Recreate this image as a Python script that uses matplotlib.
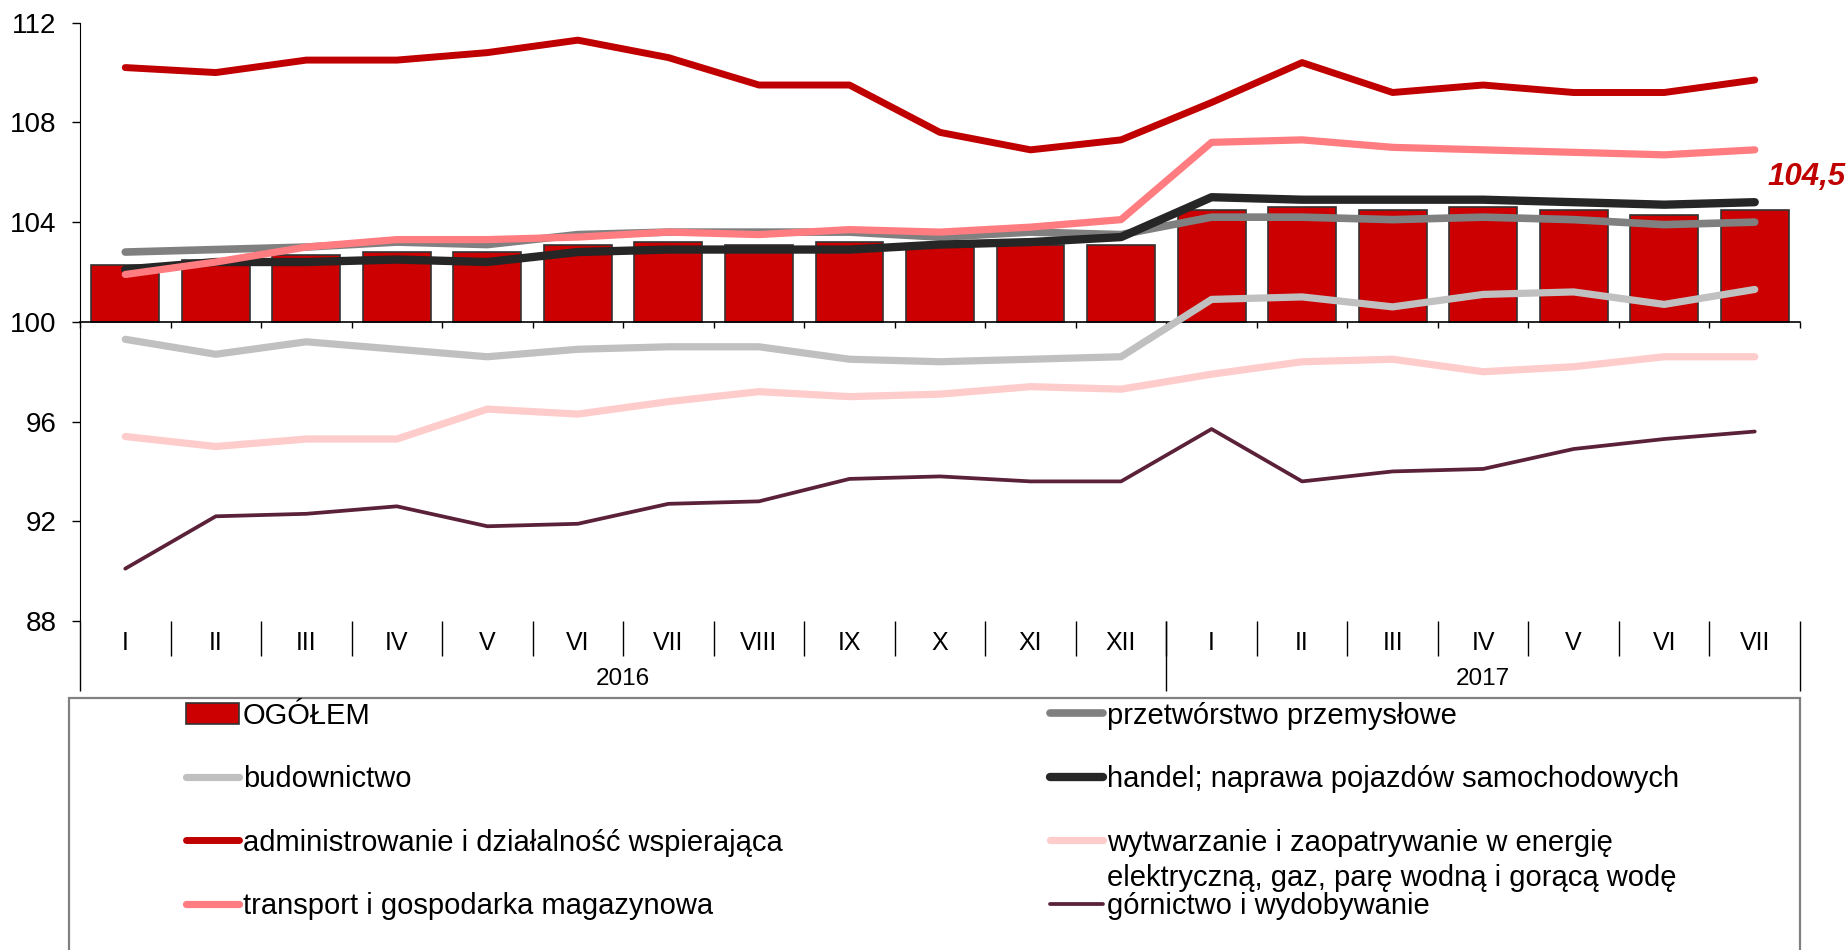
import numpy as np
import matplotlib
matplotlib.use('Agg')
import matplotlib.pyplot as plt
from matplotlib.patches import Rectangle
from matplotlib.text import Annotation

plt.rcParams['font.family'] = ['Liberation Sans', 'DejaVu Sans']

months = ['I', 'II', 'III', 'IV', 'V', 'VI', 'VII', 'VIII', 'IX', 'X', 'XI', 'XII',
          'I', 'II', 'III', 'IV', 'V', 'VI', 'VII']
years = ['2016', '2017']

ogolem = [102.3, 102.5, 102.7, 102.8, 102.8, 103.1, 103.2, 103.1, 103.2, 103.0, 103.1, 103.1,
          104.5, 104.6, 104.5, 104.6, 104.5, 104.3, 104.5]
przetworstwo = [102.8, 102.9, 103.0, 103.2, 103.1, 103.5, 103.6, 103.6, 103.6, 103.4, 103.6, 103.5,
                104.2, 104.2, 104.1, 104.2, 104.1, 103.9, 104.0]
budownictwo = [99.3, 98.7, 99.2, 98.9, 98.6, 98.9, 99.0, 99.0, 98.5, 98.4, 98.5, 98.6,
               100.9, 101.0, 100.6, 101.1, 101.2, 100.7, 101.3]
handel = [102.1, 102.4, 102.4, 102.5, 102.4, 102.8, 102.9, 102.9, 102.9, 103.1, 103.2, 103.4,
          105.0, 104.9, 104.9, 104.9, 104.8, 104.7, 104.8]
administrowanie = [110.2, 110.0, 110.5, 110.5, 110.8, 111.3, 110.6, 109.5, 109.5, 107.6, 106.9, 107.3,
                   108.8, 110.4, 109.2, 109.5, 109.2, 109.2, 109.7]
wytwarzanie = [95.4, 95.0, 95.3, 95.3, 96.5, 96.3, 96.8, 97.2, 97.0, 97.1, 97.4, 97.3,
               97.9, 98.4, 98.5, 98.0, 98.2, 98.6, 98.6]
transport = [101.9, 102.4, 103.0, 103.3, 103.3, 103.4, 103.6, 103.5, 103.7, 103.6, 103.8, 104.1,
             107.2, 107.3, 107.0, 106.9, 106.8, 106.7, 106.9]
gornictwo = [90.1, 92.2, 92.3, 92.6, 91.8, 91.9, 92.7, 92.8, 93.7, 93.8, 93.6, 93.6,
             95.7, 93.6, 94.0, 94.1, 94.9, 95.3, 95.6]

W, H = 1847, 950
FS_TICK = 20
FS_CAT = 18
FS_YEAR = 17.5
FS_LEG = 21

fig = plt.figure(figsize=(W / 100, H / 100), dpi=100)
ax = fig.add_axes([80 / W, 1 - 621 / H, 1720 / W, (621 - 22.7) / H])

x = np.arange(len(months))
bars = ax.bar(x, np.array(ogolem) - 100, bottom=100, width=0.75, color='#CC0000',
              edgecolor='#333333', linewidth=1.2, zorder=2)

kw = dict(solid_capstyle='round', solid_joinstyle='round')
l_prz, = ax.plot(x, przetworstwo, color='#808080', lw=5.5, zorder=3, **kw)
l_han, = ax.plot(x, handel, color='#262626', lw=6, zorder=4, **kw)
l_tra, = ax.plot(x, transport, color='#FF7C80', lw=5.2, zorder=5, **kw)
l_bud, = ax.plot(x, budownictwo, color='#C0C0C0', lw=5.2, zorder=5, **kw)
l_wyt, = ax.plot(x, wytwarzanie, color='#FFCCCC', lw=5.2, zorder=5, **kw)
l_gor, = ax.plot(x, gornictwo, color='#5A2139', lw=2.7, zorder=5, **kw)
l_adm, = ax.plot(x, administrowanie, color='#C00000', lw=5, zorder=6, **kw)

ax.annotate(f'{ogolem[-1]:.1f}'.replace('.', ','), xy=(x[-1], ogolem[-1]),
            xytext=(9, 23.5), textcoords='offset points', ha='left', va='center',
            color='#C00000', fontsize=22.5, fontweight='bold', fontstyle='italic')

ax.set_xlim(-0.5, len(months) - 0.5)
ax.set_ylim(88, 112)
ax.set_yticks(range(88, 113, 4))
ax.tick_params(axis='y', length=6, width=1, pad=11, labelsize=FS_TICK)
ax.spines['top'].set_visible(False)
ax.spines['right'].set_visible(False)
ax.spines['bottom'].set_position(('data', 100))
ax.spines['bottom'].set_linewidth(1.2)
ax.set_xticks(np.arange(-0.5, len(months), 1))
ax.tick_params(axis='x', length=4.5, width=1, direction='out', labelbottom=False)

# month labels with separators
sec = ax.secondary_xaxis('bottom')
sec.spines['bottom'].set_visible(False)
bounds = np.arange(0.5, len(months) - 1, 1)
sec.set_xticks(bounds, labels=[''] * len(bounds))
sec.set_xticks(x, labels=months, minor=True)
sec.tick_params(which='major', length=25, width=1)
sec.tick_params(which='minor', length=0, pad=7.2, labelsize=FS_CAT)

# year labels
sec2 = ax.secondary_xaxis('bottom')
sec2.spines['bottom'].set_visible(False)
ybounds = [-0.5, 11.5, len(months) - 0.5]
sec2.set_xticks(ybounds, labels=[''] * 3)
sec2.set_xticks([5.5, 15], labels=years, minor=True)
sec2.tick_params(which='major', length=50.4, width=1)
sec2.tick_params(which='minor', length=0, pad=33.7, labelsize=FS_YEAR)

# legend frame
frame = Rectangle((69 / W, -0.05), (1800 - 69) / W, (1 - 698 / H) + 0.05,
                  transform=fig.transFigure, fill=False, edgecolor='#808080', lw=1.6)
fig.add_artist(frame)

leg_kw = dict(loc='upper left', frameon=False, borderpad=0, borderaxespad=0,
              handlelength=1.8, handletextpad=0.15, labelspacing=1.22, fontsize=FS_LEG)
leg1 = fig.legend([bars, l_bud, l_adm, l_tra],
                  ['OGÓŁEM', 'budownictwo', 'administrowanie i działalność wspierająca',
                   'transport i gospodarka magazynowa'],
                  bbox_to_anchor=(186 / W, 1 - 701.5 / H), **leg_kw)
leg2 = fig.legend([l_prz, l_han, l_wyt, l_gor],
                  ['przetwórstwo przemysłowe', 'handel; naprawa pojazdów samochodowych',
                   'wytwarzanie i zaopatrywanie w energię', 'górnictwo i wydobywanie'],
                  bbox_to_anchor=(1050 / W, 1 - 701.5 / H), **leg_kw)

second = Annotation('elektryczną, gaz, parę wodną i gorącą wodę', xy=(0, 0),
                    xycoords=leg2.get_texts()[2], xytext=(0, -5), textcoords='offset points',
                    ha='left', va='top', fontsize=FS_LEG)
second.set_zorder(10)
fig.add_artist(second)

fig.savefig('out.png', dpi=100)
